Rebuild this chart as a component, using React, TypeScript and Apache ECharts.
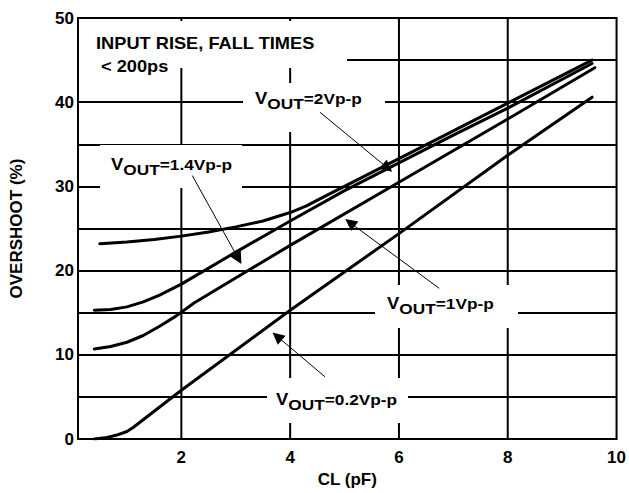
import React, { useEffect, useRef } from 'react';
import * as echarts from 'echarts';

// ---- data ----
const xTickLabels = [2, 4, 6, 8, 10];
const xGridValues = [2, 4, 6, 8];
const yLabelValues = [0, 10, 20, 30, 40, 50];

const vout02 = [[0.4, 0], [0.6, 0.15], [0.8, 0.45], [1.0, 0.9], [1.12, 1.4], [2, 5.8], [4, 15.3], [6, 24.4], [8, 33.7], [9.55, 40.6]];
const vout1 = [[0.4, 10.7], [0.7, 11.0], [1.0, 11.5], [1.3, 12.3], [1.6, 13.4], [1.9, 14.6], [2.24, 16.2], [4, 23.0], [6, 30.5], [8, 38.0], [9.6, 44.1]];
const vout14 = [[0.4, 15.3], [0.7, 15.4], [1.0, 15.7], [1.3, 16.3], [1.6, 17.1], [2, 18.4], [3, 22.2], [4, 25.9], [5, 29.5], [6, 32.8], [7, 36.1], [8, 39.3], [9.55, 44.6]];
const vout2 = [[0.5, 23.2], [1, 23.4], [1.5, 23.7], [2, 24.1], [2.5, 24.6], [3, 25.2], [3.5, 25.9], [4, 26.9], [4.3, 27.7], [4.6, 28.7], [6, 33.3], [8, 39.9], [9.55, 45.0]];

const arrowLines = [
  [[4.55, 38.8], [5.79, 32.2]],
  [[2.2, 31.3], [3.05, 21.4]],
  [[6.74, 17.9], [5.1, 25.7]],
  [[4.64, 7.4], [3.76, 12.2]],
];

const labelTexts = ['=2Vp-p', '=1.4Vp-p', '=1Vp-p', '=0.2Vp-p'];
const noteLines = ['INPUT RISE, FALL TIMES', '< 200ps'];

// ---- layout (pixels) ----
const FONT = '"Liberation Sans", Arial, Helvetica, sans-serif';
const SX = 1.15;
const labelLayout = [
  { left: 255, cy: 98, box: [243, 83, 142, 49] },
  { left: 111, cy: 164, box: [100, 145, 142, 43] },
  { left: 387, cy: 303.5, box: [375, 285, 143, 43] },
  { left: 276, cy: 399, box: [267, 378, 141, 45] },
];

function txt(x: number, y: number, text: string, size: number, sx = SX) {
  return {
    type: 'text',
    x,
    y,
    z: 11,
    scaleX: sx,
    style: {
      text,
      fill: '#000',
      fontFamily: FONT,
      fontWeight: 'bold',
      fontSize: size,
      align: 'left',
      verticalAlign: 'middle',
    },
  };
}

function box(x: number, y: number, w: number, h: number) {
  return { type: 'rect', z: 10, shape: { x, y, width: w, height: h }, style: { fill: '#fff', stroke: null } };
}

export default function App() {
  const ref = useRef<HTMLDivElement>(null);
  useEffect(() => {
    document.body.style.margin = '0';
    const chart = echarts.init(ref.current!, null, { renderer: 'svg' });

    const elements: any[] = [];
    elements.push(box(79, 21, 268, 47));
    elements.push(txt(96, 43, noteLines[0], 16, 1.14));
    elements.push(txt(101, 66, noteLines[1], 16, 1.14));
    labelLayout.forEach((l, i) => {
      elements.push(box(l.box[0], l.box[1], l.box[2], l.box[3]));
      elements.push(txt(l.left, l.cy, 'V', 16));
      elements.push(txt(l.left + 10.7 * SX, l.cy + 5, 'OUT', 15));
      elements.push(txt(l.left + 10.7 * SX + 31.7 * SX, l.cy, labelTexts[i], 15));
    });

    const curve = (data: number[][]) => ({
      type: 'line',
      data,
      showSymbol: false,
      smooth: false,
      lineStyle: { color: '#000', width: 3, join: 'round', cap: 'round' },
      silent: true,
      z: 2,
    });

    chart.setOption({
      animation: false,
      grid: {
        left: 77,
        right: 11,
        top: 18,
        bottom: 46,
        show: true,
        borderColor: '#000',
        borderWidth: 2,
        backgroundColor: 'transparent',
      },
      xAxis: {
        type: 'value',
        min: 0.1,
        max: 10,
        name: 'CL (pF)',
        nameLocation: 'middle',
        nameGap: 28,
        nameTextStyle: { fontFamily: FONT, fontWeight: 'bold', fontSize: 17, color: '#000' },
        axisLine: { show: false },
        axisTick: { show: false },
        splitLine: { show: false },
        axisLabel: {
          customValues: xTickLabels,
          margin: 10,
          fontFamily: FONT,
          fontWeight: 'bold',
          fontSize: 17,
          color: '#000',
        },
      },
      yAxis: {
        type: 'value',
        min: 0,
        max: 50,
        interval: 5,
        name: 'OVERSHOOT (%)',
        nameLocation: 'middle',
        nameGap: 53,
        nameTextStyle: { fontFamily: FONT, fontWeight: 'bold', fontSize: 17, color: '#000' },
        axisLine: { show: false },
        axisTick: { show: false },
        splitLine: { show: true, lineStyle: { color: '#000', width: 2 } },
        axisLabel: {
          margin: 4,
          fontFamily: FONT,
          fontWeight: 'bold',
          fontSize: 17,
          color: '#000',
          formatter: (v: number) => (yLabelValues.includes(v) ? String(v) : ''),
        },
      },
      graphic: { elements },
      series: [
        ...xGridValues.map((xv) => ({
          type: 'line',
          data: [[xv, 0], [xv, 50]],
          showSymbol: false,
          lineStyle: { color: '#000', width: 2 },
          silent: true,
          z: 1,
        })),
        curve(vout02),
        curve(vout1),
        curve(vout14),
        curve(vout2),
        {
          type: 'line',
          data: [],
          silent: true,
          markLine: {
            z: 20,
            silent: true,
            animation: false,
            symbol: ['none', 'triangle'],
            symbolSize: 12,
            label: { show: false },
            lineStyle: { color: '#000', width: 1, type: 'solid' },
            itemStyle: { color: '#000' },
            emphasis: { disabled: true },
            data: arrowLines.map(([a, b]) => [{ coord: a }, { coord: b }]),
          },
        },
      ],
    });
    return () => chart.dispose();
  }, []);
  return <div ref={ref} style={{ width: 629, height: 493 }} />;
}
